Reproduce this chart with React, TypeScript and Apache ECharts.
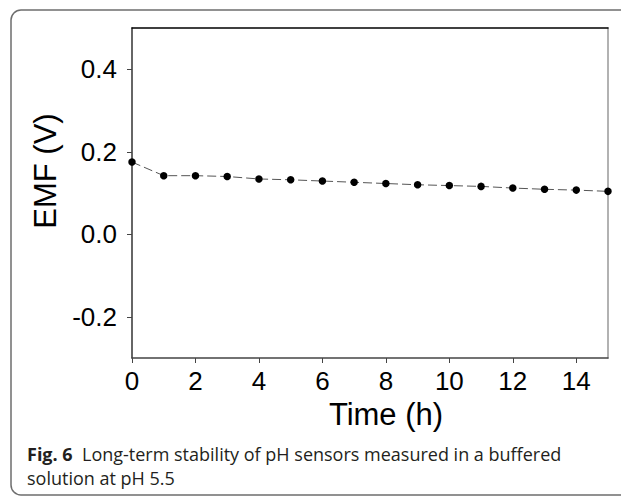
import React, { useEffect, useRef } from "react";
import * as echarts from "echarts";

const hours = [0, 1, 2, 3, 4, 5, 6, 7, 8, 9, 10, 11, 12, 13, 14, 15];
const emf = [0.175, 0.142, 0.142, 0.14, 0.134, 0.132, 0.129, 0.126, 0.123, 0.12, 0.118, 0.116, 0.112, 0.109, 0.107, 0.104];
const xTicks = [0, 2, 4, 6, 8, 10, 12, 14];
const yTicks = [-0.2, 0, 0.2, 0.4];
const xName = "Time (h)";
const yName = "EMF (V)";
const captionBold = "Fig. 6";
const captionLine1 = "Long-term stability of pH sensors measured in a buffered";
const captionLine2 = "solution at pH 5.5";

export default function App() {
  const ref = useRef<HTMLDivElement>(null);
  useEffect(() => {
    if (!ref.current) return;
    const chart = echarts.init(ref.current, undefined, { renderer: "svg" });
    const font = "Liberation Sans, Arial, sans-serif";
    const capFont = "Open Sans, Noto Sans, sans-serif";
    chart.setOption({
      animation: false,
      backgroundColor: "#fff",
      grid: { left: 132, right: 13, top: 28, bottom: 142 },
      xAxis: [
        {
          type: "value",
          min: 0,
          max: 15,
          position: "bottom",
          splitLine: { show: false },
          axisLine: { onZero: false, lineStyle: { color: "#444", width: 1.5 } },
          axisTick: { show: true, inside: false, length: 5, customValues: xTicks, lineStyle: { color: "#444" } },
          axisLabel: { customValues: xTicks, color: "#000", fontFamily: font, fontSize: 26, margin: 10 },
          name: xName,
          nameLocation: "middle",
          nameGap: 40,
          nameTextStyle: { fontFamily: font, fontSize: 31, color: "#000", padding: [0, 0, 0, 32] },
        },
        {
          type: "value",
          min: 0,
          max: 15,
          position: "top",
          splitLine: { show: false },
          axisLine: { show: true, onZero: false, lineStyle: { color: "#000", width: 1.5 } },
          axisTick: { show: false },
          axisLabel: { show: false },
        },
      ],
      yAxis: [
        {
          type: "value",
          min: -0.3,
          max: 0.5,
          position: "left",
          splitLine: { show: false },
          axisLine: { show: true, onZero: false, lineStyle: { color: "#333", width: 1.5 } },
          axisTick: { show: true, inside: false, length: 5, customValues: yTicks, lineStyle: { color: "#444" } },
          axisLabel: {
            customValues: yTicks,
            color: "#000",
            fontFamily: font,
            fontSize: 26,
            margin: 15,
            formatter: (v: number) => v.toFixed(1),
          },
          name: yName,
          nameLocation: "middle",
          nameRotate: 90,
          nameGap: 67,
          nameTextStyle: { fontFamily: font, fontSize: 31, color: "#000", padding: [0, 0, 0, 44] },
        },
        {
          type: "value",
          min: -0.3,
          max: 0.5,
          position: "right",
          splitLine: { show: false },
          axisLine: { show: true, onZero: false, lineStyle: { color: "#999", width: 1.5 } },
          axisTick: { show: false },
          axisLabel: { show: false },
        },
      ],
      series: [
        {
          type: "line",
          data: hours.map((h, i) => [h, emf[i]]),
          symbol: "circle",
          symbolSize: 7.5,
          itemStyle: { color: "#000" },
          lineStyle: { color: "#555", width: 1, type: [9, 4] },
          clip: false,
          z: 5,
        },
      ],
      graphic: [
        {
          type: "rect",
          shape: { x: 11, y: 10, width: 700, height: 485, r: 10 },
          style: { fill: "none", stroke: "#6e6e6e", lineWidth: 1.5 },
          z: -1,
          silent: true,
        },
        {
          type: "text",
          left: 27,
          top: 442,
          style: {
            text: "{b|" + captionBold + "}  " + captionLine1 + "\n" + captionLine2,
            fontFamily: capFont,
            fontSize: 18,
            lineHeight: 24,
            fill: "#231f20",
            rich: {
              b: { fontFamily: capFont, fontSize: 18, fontWeight: "bold", fill: "#231f20", lineHeight: 24 },
            },
          },
        },
      ],
    });
    return () => chart.dispose();
  }, []);
  return <div ref={ref} style={{ position: "fixed", left: 0, top: 0, width: 621, height: 500 }} />;
}
